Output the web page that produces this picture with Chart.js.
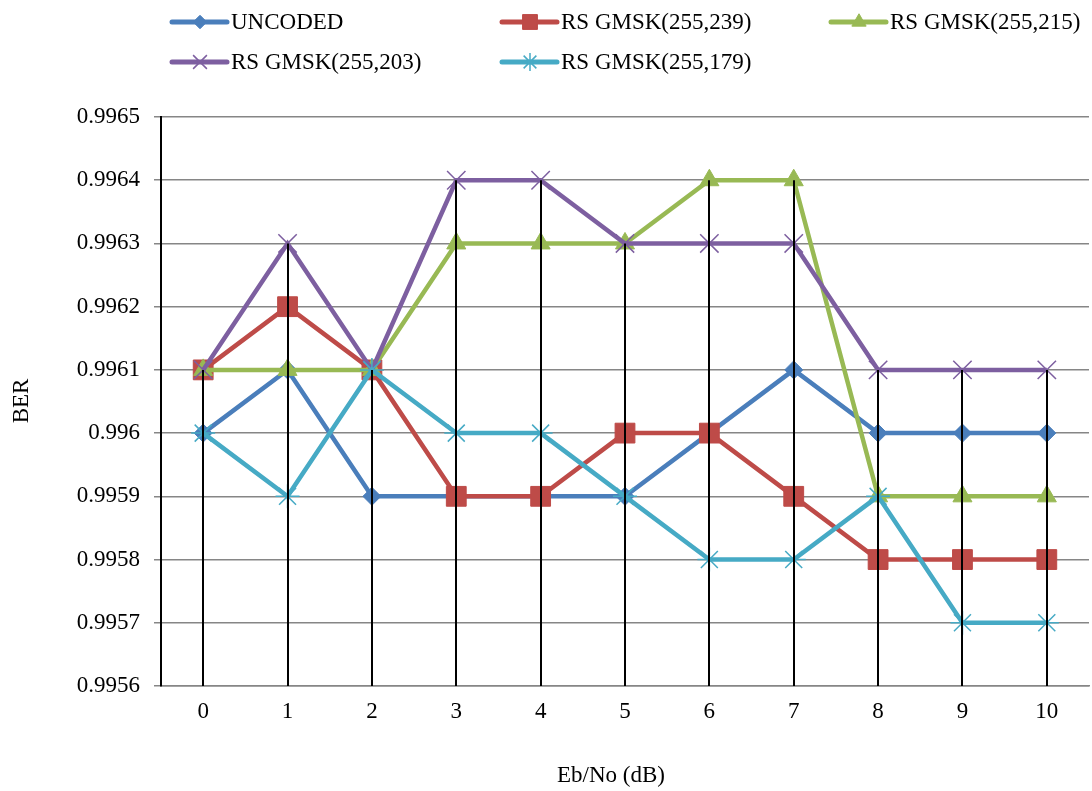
<!DOCTYPE html>
<html>
<head>
<meta charset="utf-8">
<script src="https://cdn.jsdelivr.net/npm/chart.js@4/dist/chart.umd.min.js"></script>
<style>
  html, body { margin: 0; padding: 0; background: #fff; }
  #wrap { width: 1092px; height: 791px; }
</style>
</head>
<body>
<div id="wrap"><canvas id="c" width="1092" height="791"></canvas></div>
<script>
const categories = ['0', '1', '2', '3', '4', '5', '6', '7', '8', '9', '10'];

const uncoded = [0.9960, 0.9961, 0.9959, 0.9959, 0.9959, 0.9959, 0.9960, 0.9961, 0.9960, 0.9960, 0.9960];
const rs239   = [0.9961, 0.9962, 0.9961, 0.9959, 0.9959, 0.9960, 0.9960, 0.9959, 0.9958, 0.9958, 0.9958];
const rs215   = [0.9961, 0.9961, 0.9961, 0.9963, 0.9963, 0.9963, 0.9964, 0.9964, 0.9959, 0.9959, 0.9959];
const rs203   = [0.9961, 0.9963, 0.9961, 0.9964, 0.9964, 0.9963, 0.9963, 0.9963, 0.9961, 0.9961, 0.9961];
const rs179   = [0.9960, 0.9959, 0.9961, 0.9960, 0.9960, 0.9959, 0.9958, 0.9958, 0.9959, 0.9957, 0.9957];

const yTickValues = [0.9956, 0.9957, 0.9958, 0.9959, 0.9960, 0.9961, 0.9962, 0.9963, 0.9964, 0.9965];
const yTickLabels = ['0.9956', '0.9957', '0.9958', '0.9959', '0.996', '0.9961', '0.9962', '0.9963', '0.9964', '0.9965'];

const FONT = '"Liberation Serif", "Times New Roman", serif';
const FSIZE = 23;
const GRIDC = '#868686';

const SERIES = [
    { label: 'UNCODED',          data: uncoded, color: '#4A7EBB', style: 'rectRot',  radius: 9,  bw: 1 },
    { label: 'RS GMSK(255,239)', data: rs239,   color: '#BE4B48', style: 'rect',     radius: 14, bw: 1 },
    { label: 'RS GMSK(255,215)', data: rs215,   color: '#98B954', style: 'triangle', radius: 11, bw: 1 },
    { label: 'RS GMSK(255,203)', data: rs203,   color: '#7D5FA0', style: 'crossRot', radius: 13, bw: 1.5 },
    { label: 'RS GMSK(255,179)', data: rs179,   color: '#46AAC5', style: 'star',     radius: 12, bw: 1.5 },
];

// drop lines from the highest point of each category down to the axis
const dropLines = {
    id: 'dropLines',
    afterDatasetsDraw(chart) {
        const { ctx, scales: { x, y } } = chart;
        ctx.save();
        ctx.strokeStyle = '#000';
        ctx.lineWidth = 2;
        categories.forEach((c, i) => {
            const top = Math.max(...SERIES.map(s => s.data[i]));
            const px = Math.round(x.getPixelForValue(i));
            ctx.beginPath();
            ctx.moveTo(px, y.getPixelForValue(top));
            ctx.lineTo(px, y.bottom);
            ctx.stroke();
        });
        ctx.restore();
    }
};

// legend with line + marker, plus axis titles
const decor = {
    id: 'decor',
    afterDraw(chart) {
        const ctx = chart.ctx;
        ctx.save();
        ctx.font = FSIZE + 'px ' + FONT;
        ctx.fillStyle = '#000';
        ctx.textBaseline = 'middle';
        const cols = [172, 502, 831];
        const rows = [22, 62];
        SERIES.forEach((s, i) => {
            const cx = cols[i % 3], cy = rows[Math.floor(i / 3)];
            ctx.strokeStyle = s.color;
            ctx.lineWidth = 5;
            ctx.lineCap = 'round';
            ctx.beginPath();
            ctx.moveTo(cx, cy);
            ctx.lineTo(cx + 55, cy);
            ctx.stroke();
            ctx.lineCap = 'butt';
            ctx.fillStyle = s.color;
            ctx.strokeStyle = s.color;
            ctx.lineWidth = s.bw;
            Chart.helpers.drawPoint(ctx, { pointStyle: s.style, radius: s.radius * 0.75, borderWidth: s.bw, rotation: 0 }, cx + 28, cy);
            ctx.fillStyle = '#000';
            ctx.textAlign = 'left';
            ctx.fillText(s.label, cx + 59, cy + 1);
        });
        ctx.textAlign = 'center';
        ctx.fillText('Eb/No (dB)', 611, 776);
        ctx.translate(22, 401);
        ctx.rotate(-Math.PI / 2);
        ctx.fillText('BER', 0, 0);
        ctx.restore();
    }
};

new Chart(document.getElementById('c').getContext('2d'), {
    type: 'line',
    data: {
        labels: categories,
        datasets: SERIES.map((s, i) => ({
            label: s.label,
            data: s.data,
            order: SERIES.length - i,
            borderColor: s.color,
            backgroundColor: s.color,
            borderWidth: 4.5,
            tension: 0,
            fill: false,
            clip: false,
            pointStyle: s.style,
            pointRadius: s.radius,
            pointBorderWidth: s.bw,
            pointBackgroundColor: s.color,
            pointBorderColor: s.color,
            pointHoverRadius: s.radius,
        }))
    },
    plugins: [dropLines, decor],
    options: {
        responsive: false,
        animation: false,
        events: [],
        layout: { autoPadding: false, padding: { left: 0, right: 3, top: 117, bottom: 0 } },
        plugins: { legend: { display: false }, tooltip: { enabled: false } },
        scales: {
            x: {
                type: 'category',
                offset: true,
                grid: { display: false, drawTicks: false },
                border: { display: true, color: GRIDC, width: 1.5 },
                ticks: { color: '#000', font: { family: FONT, size: FSIZE }, padding: 12, maxRotation: 0 },
                afterFit(scale) {
                    scale.height = 105;
                    scale.paddingLeft = 0;
                    scale.paddingRight = 0;
                }
            },
            y: {
                min: 0.9956,
                max: 0.9965,
                afterBuildTicks(scale) { scale.ticks = yTickValues.map(v => ({ value: v })); },
                grid: { color: GRIDC, lineWidth: 1.5, drawTicks: true, tickLength: 7, tickColor: GRIDC },
                border: { display: true, color: '#000', width: 2 },
                ticks: {
                    color: '#000',
                    font: { family: FONT, size: FSIZE },
                    padding: 14,
                    callback: (v, i) => yTickLabels[i]
                },
                afterFit(scale) {
                    scale.width = 161;
                    scale.paddingTop = 0;
                    scale.paddingBottom = 0;
                }
            }
        }
    }
});
</script>
</body>
</html>
